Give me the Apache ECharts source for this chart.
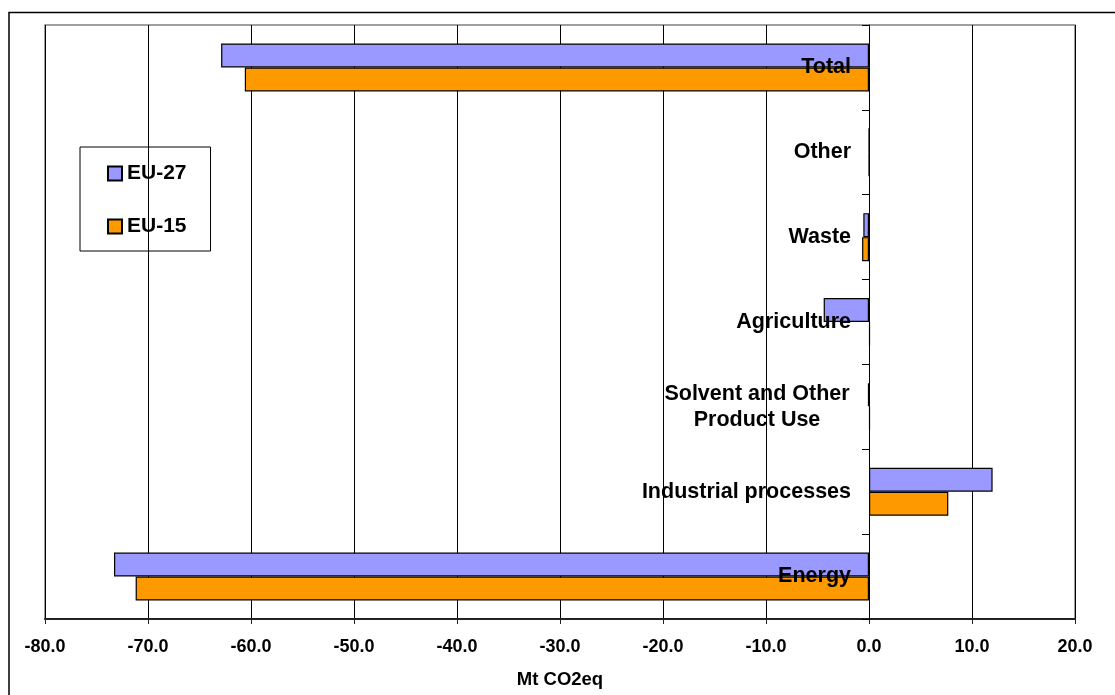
<!DOCTYPE html>
<html>
<head>
<meta charset="utf-8">
<script src="https://cdn.jsdelivr.net/npm/echarts@6/dist/echarts.min.js"></script>
<style>
  html, body { margin: 0; padding: 0; background: #fff; }
  #chart { width: 1115px; height: 695px; }
</style>
</head>
<body>
<div id="chart"></div>
<script>
// Emission sectors, listed bottom to top
const categories = ['Energy', 'Industrial processes', 'Solvent and Other Product Use', 'Agriculture', 'Waste', 'Other', 'Total'];
// Change in emissions per sector (Mt CO2eq)
const eu27 = [-73.3, 12.0, -0.1, -4.4, -0.55, 0, -62.9];
const eu15 = [-71.2, 7.7, 0.1, 0.1, -0.67, 0, -60.6];
// Value axis range and step
const xMin = -80, xMax = 20, xStep = 10;

const FONT = '"Liberation Sans", Arial, sans-serif';
const GRID_LEFT = 45;

const chart = echarts.init(document.getElementById('chart'), null, { renderer: 'canvas' });

chart.setOption({
  backgroundColor: '#fff',
  animation: false,
  graphic: [{
    type: 'rect',
    shape: { x: 9, y: 12.5, width: 1200, height: 800 },
    style: { fill: 'none', stroke: '#000', lineWidth: 1.5 },
    z: -1
  }],
  grid: {
    left: GRID_LEFT, right: 40, top: 25, bottom: 76,
    outerBoundsMode: 'none',
    containLabel: false,
    show: true, borderColor: '#808080', borderWidth: 1.5, backgroundColor: '#fff'
  },
  legend: {
    data: ['EU-27', 'EU-15'],
    orient: 'vertical',
    left: 80, top: 147,
    padding: [16, 24, 14, 27],
    itemGap: 32,
    itemWidth: 14, itemHeight: 14,
    icon: 'rect',
    borderColor: '#000', borderWidth: 1,
    textStyle: { fontFamily: FONT, fontWeight: 'bold', fontSize: 21, color: '#000' }
  },
  xAxis: {
    type: 'value',
    min: xMin, max: xMax, interval: xStep,
    name: 'Mt CO2eq',
    nameLocation: 'middle',
    nameGap: 51,
    nameTextStyle: { fontFamily: FONT, fontWeight: 'bold', fontSize: 18.5, color: '#000' },
    axisLine: { show: true, onZero: false, lineStyle: { color: '#222', width: 2 } },
    axisTick: { show: true, length: 5, lineStyle: { color: '#222' } },
    axisLabel: {
      margin: 19,
      fontFamily: FONT, fontWeight: 'bold', fontSize: 18, color: '#000',
      formatter: v => v.toFixed(1)
    },
    splitLine: { show: true, lineStyle: { color: '#000', width: 1 } }
  },
  yAxis: {
    type: 'category',
    data: categories,
    z: 5,
    position: 'left',
    axisLine: { show: true, onZero: false, lineStyle: { color: '#000', width: 1 } },
    axisTick: { show: true, length: 7, lineStyle: { color: '#000' } },
    axisLabel: {
      margin: 18,
      fontFamily: FONT, fontWeight: 'bold', fontSize: 21.5, color: '#000',
      lineHeight: 26,
      formatter: function (v) {
        if (v === 'Solvent and Other Product Use') {
          return '{c|Solvent and Other}\n{c|Product Use}';
        }
        return v;
      },
      rich: {
        c: { width: 188, align: 'center', fontFamily: FONT, fontWeight: 'bold', fontSize: 21.5, color: '#000', lineHeight: 26 }
      }
    },
    splitLine: { show: false }
  },
  series: [
    {
      name: 'EU-27',
      type: 'bar',
      data: eu27,
      barWidth: 24,
      barGap: '0%',
      itemStyle: { color: '#9999FF', borderColor: '#000', borderWidth: 1.2 }
    },
    {
      name: 'EU-15',
      type: 'bar',
      data: eu15,
      barWidth: 24,
      barGap: '0%',
      itemStyle: { color: '#FF9900', borderColor: '#000', borderWidth: 1.2 }
    }
  ]
});

// Move the category axis (line, ticks and labels) onto the zero value
const zeroX = chart.convertToPixel({ xAxisIndex: 0 }, 0);
chart.setOption({ yAxis: { offset: -(zeroX - GRID_LEFT) } });
</script>
</body>
</html>
